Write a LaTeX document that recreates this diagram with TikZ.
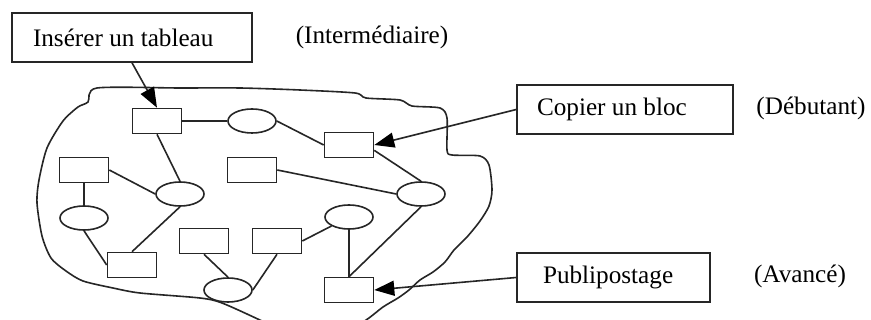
\documentclass[tikz,border=0pt]{standalone}
\usepackage{fontspec}
\setmainfont{Liberation Serif}
\usetikzlibrary{arrows.meta,shapes.geometric}
\begin{document}
\begin{tikzpicture}[x=0.5pt,y=-0.5pt,
  every node/.style={font=\fontsize{12.6}{15}\selectfont},
  line/.style={draw=black!85,line width=0.8pt},
  bigbox/.style={line,rectangle,inner sep=0pt,minimum height=24.5pt,align=flush left},
  rbox/.style={line,rectangle,inner sep=0pt,minimum width=24.5pt,minimum height=12.5pt},
  ebox/.style={line,ellipse,inner sep=0pt,minimum width=24pt,minimum height=12pt},
  lbl/.style={inner sep=0pt},
  edge/.style={line},
  arr/.style={line,-{Triangle[length=10pt,width=7.5pt,color=black]}}]
\useasboundingbox (0,0) rectangle (871,320);
\fill[white] (0,0) rectangle (871,320);
% blob
\begin{scope}
\clip (0,0) rectangle (871,320);
\draw[line] plot[smooth cycle,tension=0.45] coordinates {
 (97,88) (180,88) (240,88) (300,90) (355,93) (366,98) (400,100) (412,106) (440,108)
 (447,118) (447,150) (452,155) (480,156) (489,165) (492,190) (489,206) (480,221)
 (467,237) (454,250) (445,262) (433,272) (420,280) (409,290) (398,298) (383,307)
 (363,322) (320,345) (290,335) (262,321) (222,303) (200,298) (140,293) (113,288)
 (83,281) (66,271) (51,258) (42,236) (37,203) (39,180) (47,148) (63,121) (78,107) (88,102)};
\end{scope}
% small nodes
\node[rbox] (R1) at (157,121) {};
\node[ebox] (E1) at (252,121) {};
\node[rbox] (R2) at (349,145) {};
\node[rbox] (R3) at (84,170) {};
\node[rbox] (R4) at (252,170) {};
\node[ebox] (E2) at (180,194) {};
\node[ebox] (E3) at (421,194) {};
\node[ebox] (E4) at (84,218) {};
\node[ebox] (E5) at (349,217) {};
\node[rbox] (R5) at (204,241) {};
\node[rbox] (R6) at (277,241) {};
\node[rbox] (R7) at (132,265) {};
\node[ebox] (E6) at (228,290) {};
\node[rbox] (R8) at (349,290) {};
% edges
\draw[edge] (R1.east) -- (E1.west);
\draw[edge] (E1.east) -- (R2.west);
\draw[edge] (R1.south) -- (E2.north);
\draw[edge] (R3.east) -- (E2.west);
\draw[edge] (R3.south) -- (E4.north);
\draw[edge] (E4.south) -- (R7.west);
\draw[edge] (E2.south) -- (R7.north);
\draw[edge] (R4.east) -- (E3.west);
\draw[edge] (E3.north) -- (R2.-12);
\draw[edge] (E3.south) -- (R8.north);
\draw[edge] (E5.south) -- (R8.north);
\draw[edge] (R6.east) -- (E5);
\draw[edge] (R5.south) -- (E6.north);
\draw[edge] (R6.south) -- (E6.east);
% big boxes
\node[bigbox,minimum width=120pt,inner xsep=10.5pt,text width=99pt] (B1) at (132,37.5) {Insérer un tableau};
\node[bigbox,minimum width=108pt,inner xsep=10pt,text width=88pt] (B2) at (625,109.5) {Copier un bloc};
\node[bigbox,minimum width=96.5pt,inner xsep=13pt,text width=70.5pt] (B3) at (613.5,277.5) {Publipostage};
\node[lbl] (L1) at (372,37) {(Intermédiaire)};
\node[lbl] (L2) at (811,108) {(Débutant)};
\node[lbl] (L3) at (800,276) {(Avancé)};
% arrows
\draw[arr] (B1.south) -- (R1.north);
\draw[arr] (B2.west) -- (R2.east);
\draw[arr] (B3.west) -- (R8.east);
\end{tikzpicture}
\end{document}
